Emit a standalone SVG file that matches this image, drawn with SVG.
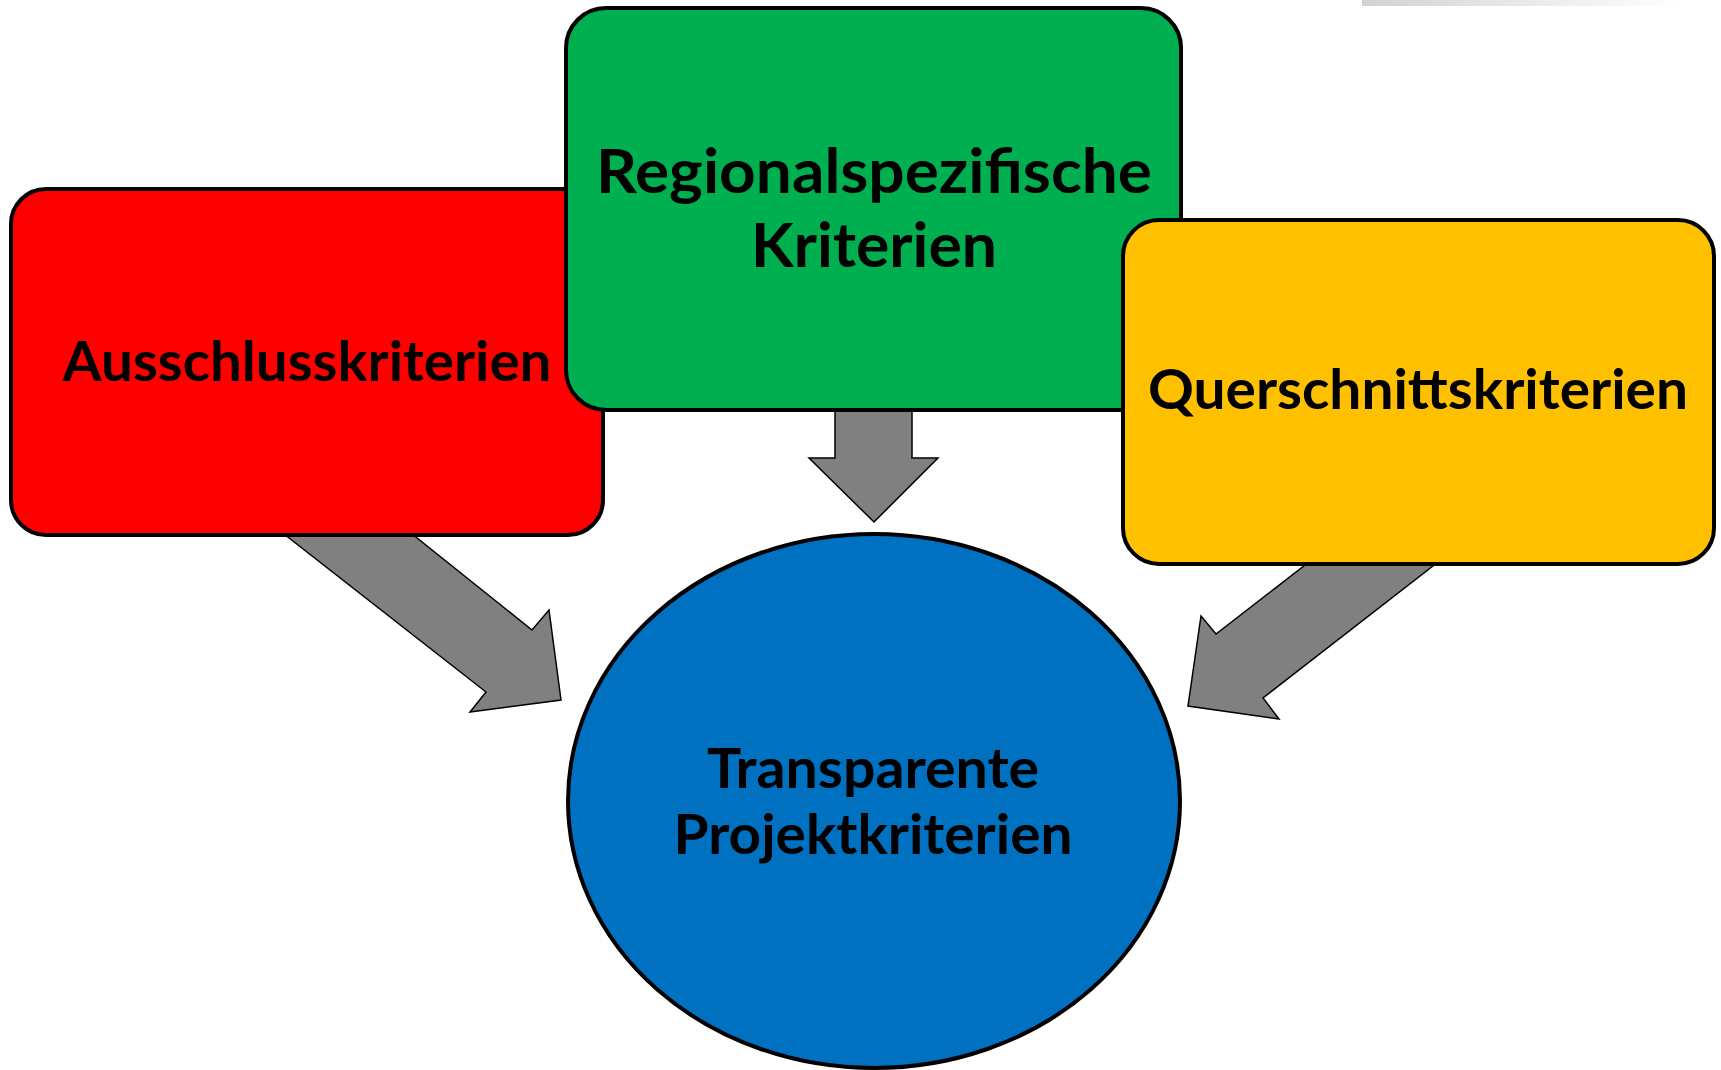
<svg xmlns="http://www.w3.org/2000/svg" width="1721" height="1070" viewBox="0 0 1721 1070">
<defs>
<linearGradient id="bar" x1="0" y1="0" x2="1" y2="0">
<stop offset="0" stop-color="#d2d2d2"/>
<stop offset="1" stop-color="#ffffff"/>
</linearGradient>
</defs>
<style>
.box{stroke:#000;stroke-width:4}
.arrow{fill:#808080;stroke:#000;stroke-width:1.5;stroke-linejoin:miter}
.lbl{font-family:Lato,"Open Sans","Liberation Sans",sans-serif;font-weight:700;fill:#000;text-anchor:middle}
</style>
<rect width="1721" height="1070" fill="#fff"/>
<rect x="1362" y="0" width="320" height="6" fill="url(#bar)"/>
<g id="connectors">
<path class="arrow" d="M835,405 L912,405 L912,458 L938,458 L874,522 L809,458 L835,458 Z"/>
<path class="arrow" d="M284,534 L412,534 L532,630 L549,610 L561,700 L470,712 L486,692 Z"/>
<path class="arrow" d="M1309,562 L1438,562 L1263,698 L1279,719 L1188,706 L1201,616 L1216,634 Z"/>
</g>
<g id="ausschluss">
<rect class="box" x="11" y="189" width="592" height="346" rx="35" fill="#ff0000"/>
<text class="lbl" x="307" y="381" font-size="56" textLength="489" lengthAdjust="spacingAndGlyphs">Ausschlusskriterien</text>
</g>
<g id="regional">
<rect class="box" x="566" y="8" width="615" height="402" rx="40" fill="#00b050"/>
<text class="lbl" x="874" y="193" font-size="62" textLength="556" lengthAdjust="spacingAndGlyphs">Regionalspezifische</text>
<text class="lbl" x="874" y="267" font-size="62" textLength="246" lengthAdjust="spacingAndGlyphs">Kriterien</text>
</g>
<g id="querschnitt">
<rect class="box" x="1123" y="220" width="591" height="344" rx="36" fill="#ffc000"/>
<text class="lbl" x="1418" y="409" font-size="56" textLength="540" lengthAdjust="spacingAndGlyphs">Querschnittskriterien</text>
</g>
<g id="projekt">
<ellipse class="box" cx="874" cy="801" rx="306" ry="267" fill="#0070c0"/>
<text class="lbl" x="873" y="788" font-size="56" textLength="332" lengthAdjust="spacingAndGlyphs">Transparente</text>
<text class="lbl" x="873" y="854" font-size="56" textLength="399" lengthAdjust="spacingAndGlyphs">Projektkriterien</text>
</g>
</svg>
